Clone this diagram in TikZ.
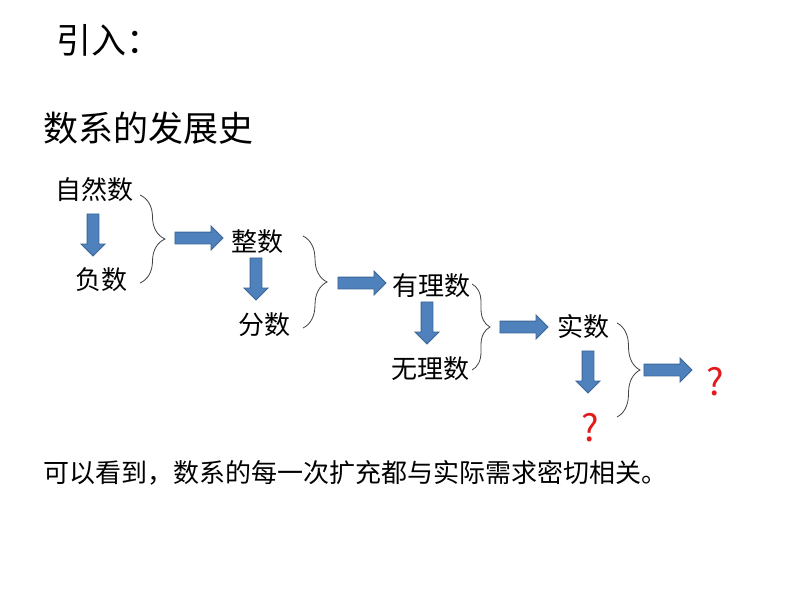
\documentclass[tikz,border=0pt]{standalone}
\usepackage{fontspec}
\newfontfamily\cjk{Noto Sans CJK SC}
\usepackage{xcolor}
\usetikzlibrary{shapes.arrows,decorations.pathreplacing}
\definecolor{arrblue}{HTML}{4F81BD}
\definecolor{arrline}{HTML}{3C6696}
\definecolor{qred}{HTML}{E31A1C}

\begin{document}
\begin{tikzpicture}[
    x=1pt, y=-1pt,
    ttl/.style  = {font=\cjk\fontsize{35}{35}\selectfont, inner sep=0pt, anchor=west},
    lbl/.style  = {font=\cjk\fontsize{26}{26}\selectfont, inner sep=0pt},
    qm/.style   = {font=\cjk\fontsize{37}{37}\selectfont, inner sep=0pt, text=qred},
    rarr/.style = {single arrow, draw=arrline, fill=arrblue, line width=0.8pt,
                   minimum height=48pt, minimum width=22pt, inner xsep=0pt,
                   inner ysep=5.5pt, single arrow head extend=6pt,
                   single arrow head indent=0pt},
    darr/.style = {rarr, rotate=-90, minimum height=42pt},
    brc/.style  = {draw=black!75, line width=0.8pt, decorate,
                   decoration={brace, amplitude=#1}},
]
\useasboundingbox (0,0) rectangle (794,596);

%--- headings
\node[ttl] (intro) at (56,40) {引入：};
\node[ttl] (hist) at (43,128) {数系的发展史};

%--- number sets
\node[lbl] (nat)  at (94,190)  {自然数};
\node[lbl] (neg)  at (101,280) {负数};
\node[lbl] (int)  at (257,242) {整数};
\node[lbl] (frac) at (264,325) {分数};
\node[lbl] (rat)  at (431,286) {有理数};
\node[lbl] (irr)  at (430,369) {无理数};
\node[lbl] (real) at (583,327) {实数};
\node[qm]  (q1)   at (590,428) {?};
\node[qm]  (q2)   at (715,382) {?};

%--- block arrows
\node[darr] (d1) at (93,232)  {};
\node[darr] (d2) at (256,276) {};
\node[darr] (d3) at (427,320) {};
\node[darr] (d4) at (588,369) {};
\node[rarr] (r1) at (196,238) {};
\node[rarr] (r2) at (359,283) {};
\node[rarr] (r3) at (521,327) {};
\node[rarr] (r4) at (665,370) {};

%--- braces
\coordinate (b1t) at (140,195);  \coordinate (b1b) at (140,283);
\coordinate (b2t) at (303,236);  \coordinate (b2b) at (303,328);
\coordinate (b3t) at (472,284);  \coordinate (b3b) at (472,370);
\coordinate (b4t) at (617,323);  \coordinate (b4b) at (617,417);
\draw[brc=25pt] (b1t) -- (b1b);
\draw[brc=24pt] (b2t) -- (b2b);
\draw[brc=18pt] (b3t) -- (b3b);
\draw[brc=23pt] (b4t) -- (b4b);

%--- conclusion
\node[lbl, anchor=west] (concl) at (43,473)
     {可以看到，数系的每一次扩充都与实际需求密切相关。};

\end{tikzpicture}
\end{document}
